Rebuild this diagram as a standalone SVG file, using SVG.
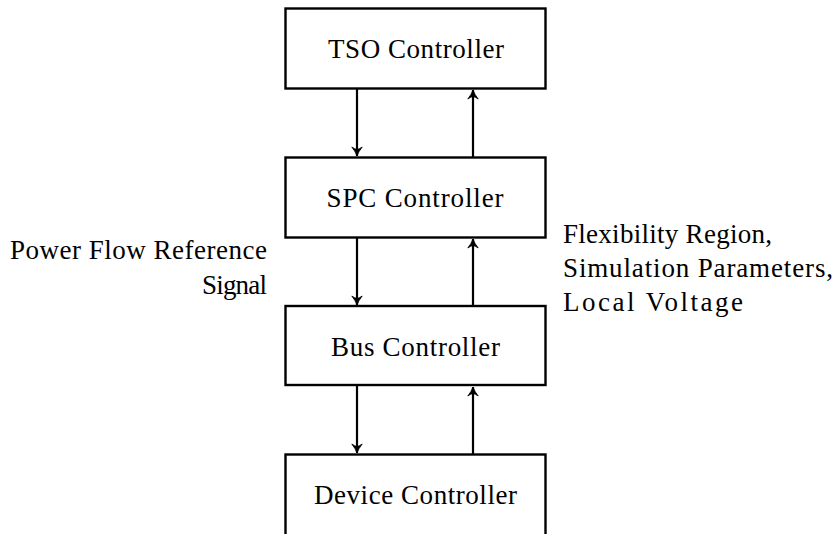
<svg xmlns="http://www.w3.org/2000/svg" width="837" height="534" viewBox="0 0 837 534">
  <style>
    .box { fill: #ffffff; stroke: #000000; stroke-width: 2.4; }
    .lbl { font-family: "Liberation Serif", "DejaVu Serif", "Times New Roman", serif; font-size: 27px; fill: #000000; }
    .mid { text-anchor: middle; }
    .end { text-anchor: end; }
    .wire { stroke: #000000; stroke-width: 2.2; fill: none; marker-end: url(#tip); }
  </style>
  <defs>
    <!-- concave-backed arrow tip, tip point at the line end -->
    <marker id="tip" viewBox="-10 -6 12 12" refX="0.5" refY="0" markerWidth="12" markerHeight="12" markerUnits="userSpaceOnUse" orient="auto">
      <path d="M 0.5 0 Q -4 -1.6 -8.5 -5.2 Q -6.2 -2 -6 0 Q -6.2 2 -8.5 5.2 Q -4 1.6 0.5 0 Z" fill="#000000" stroke="#000000" stroke-width="0.8" stroke-linejoin="round"/>
    </marker>
  </defs>
  <rect width="837" height="534" fill="#ffffff"/>

  <g id="tso">
    <rect class="box" x="285.5" y="8.5" width="260" height="80"/>
    <text class="lbl mid" x="416" y="58" textLength="176" lengthAdjust="spacing">TSO Controller</text>
  </g>
  <g id="spc">
    <rect class="box" x="285.5" y="157.5" width="260" height="80"/>
    <text class="lbl mid" x="415" y="207" textLength="177" lengthAdjust="spacing">SPC Controller</text>
  </g>
  <g id="bus">
    <rect class="box" x="285.5" y="306" width="260" height="79"/>
    <text class="lbl mid" x="415.5" y="356" textLength="169" lengthAdjust="spacing">Bus Controller</text>
  </g>
  <g id="device">
    <rect class="box" x="285.5" y="454.5" width="260" height="100"/>
    <text class="lbl mid" x="415.5" y="504" textLength="203" lengthAdjust="spacing">Device Controller</text>
  </g>

  <g id="connectors">
    <line class="wire" x1="357" y1="89" x2="357" y2="156"/>
    <line class="wire" x1="473" y1="157" x2="473" y2="90"/>
    <line class="wire" x1="357" y1="238" x2="357" y2="305"/>
    <line class="wire" x1="473" y1="306" x2="473" y2="239"/>
    <line class="wire" x1="357" y1="386" x2="357" y2="453"/>
    <line class="wire" x1="473" y1="454" x2="473" y2="387"/>
  </g>

  <g id="downlink-label">
    <text class="lbl end" x="267" y="259" textLength="257" lengthAdjust="spacing">Power Flow Reference</text>
    <text class="lbl end" x="267" y="294" textLength="65" lengthAdjust="spacing">Signal</text>
  </g>
  <g id="uplink-label">
    <text class="lbl" x="563" y="243" textLength="209" lengthAdjust="spacing">Flexibility Region,</text>
    <text class="lbl" x="563" y="277" textLength="270" lengthAdjust="spacing">Simulation Parameters,</text>
    <text class="lbl" x="563" y="311" textLength="180" lengthAdjust="spacing">Local Voltage</text>
  </g>
</svg>
